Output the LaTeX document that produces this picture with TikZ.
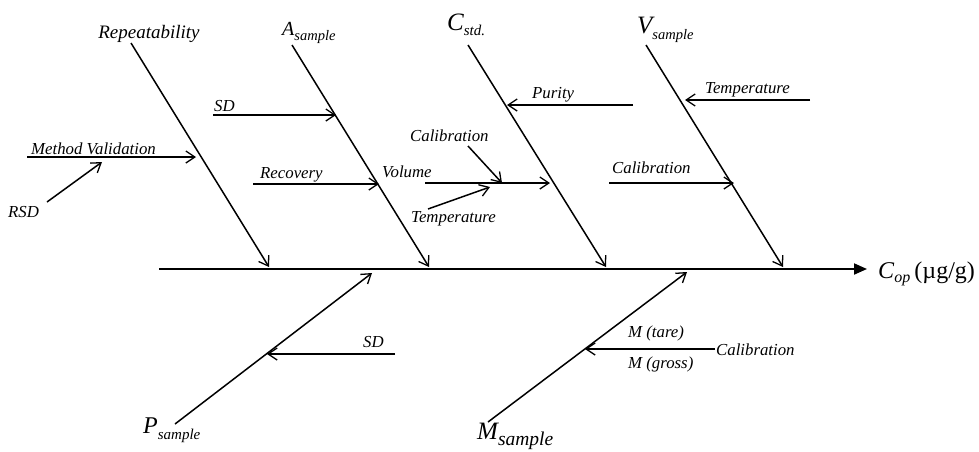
\documentclass[tikz,border=0pt]{standalone}
\usepackage{fontspec}
\setmainfont{Liberation Serif}
\usetikzlibrary{arrows.meta}
\newcommand\fsz[1]{\fontsize{#1}{#1}\selectfont}
\newcommand\subx[3]{#1\raisebox{#2}{\fsz{#3}sample}}
\begin{document}
\begin{tikzpicture}[x=1pt,y=-1pt,
  bone/.style={line width=1.5pt,-{Straight Barb[length=9pt,width=12pt,line width=1.3pt]}},
  spine/.style={line width=2pt,-{Triangle[length=13pt,width=11pt]}},
  lbl/.style={inner sep=0pt,font=\fsz{16.8}\itshape},
  big/.style={inner sep=0pt,font=\itshape}]
\useasboundingbox (0,0) rectangle (979,451);
\fill[white] (0,0) rectangle (979,451);
% spine
\coordinate (s0) at (159,269);
\coordinate (s1) at (867,269);
\draw[spine] (s0) -- (s1);
\node[inner sep=0pt,anchor=base west] (cop) at (878,278)
  {\fsz{24}\textit{C}\raisebox{-4pt}{\fsz{16}\textit{op}}\,(µg/g)};
% top bones
\coordinate (r0) at (131,43);  \coordinate (r1) at (269,267);
\coordinate (a0) at (292,45);  \coordinate (a1) at (429,267);
\coordinate (c0) at (468,45);  \coordinate (c1) at (606,267);
\coordinate (v0) at (646,45);  \coordinate (v1) at (783,267);
\draw[bone] (r0) -- (r1);
\draw[bone] (a0) -- (a1);
\draw[bone] (c0) -- (c1);
\draw[bone] (v0) -- (v1);
\node[big,anchor=base] (lr) at (149,38) {\fsz{19}Repeatability};
\node[big,anchor=base west] (la) at (282,35) {\fsz{20}\subx{A}{-5pt}{14.5}};
\node[big,anchor=base west] (lc) at (447,30) {\fsz{25}C\raisebox{-5pt}{\fsz{15}std.}};
\node[big,anchor=base west] (lv) at (637,33) {\fsz{25}\subx{V}{-6pt}{14.5}};
% bottom bones
\coordinate (p0) at (175,424); \coordinate (p1) at (372,273);
\coordinate (m0) at (488,422); \coordinate (m1) at (687,272);
\draw[bone] (p0) -- (p1);
\draw[bone] (m0) -- (m1);
\node[big,anchor=base west] (lp) at (143,433) {\fsz{24}\subx{P}{-6pt}{15}};
\node[big,anchor=base west] (lm) at (477,439) {\fsz{25}\subx{M}{-6pt}{19.5}};
% sub-causes: Repeatability
\coordinate (mv0) at (27,157); \coordinate (mv1) at (196,157);
\draw[bone] (mv0) -- (mv1);
\node[lbl,anchor=base west] (tmv) at (31,154) {Method Validation};
\node[lbl,anchor=base west] (trsd) at (8,217) {RSD};
\coordinate (rsd0) at (47,202); \coordinate (rsd1) at (102,162);
\draw[bone] (rsd0) -- (rsd1);
% A sample
\coordinate (sd0) at (213,115); \coordinate (sd1) at (336,115);
\draw[bone] (sd0) -- (sd1);
\node[lbl,anchor=base west] (tsd) at (214,111) {SD};
\coordinate (rc0) at (253,184); \coordinate (rc1) at (379,184);
\draw[bone] (rc0) -- (rc1);
\node[lbl,anchor=base west] (trc) at (260,178) {Recovery};
% C std
\node[lbl,anchor=base west] (tvol) at (382,177) {Volume};
\coordinate (vo0) at (425,183); \coordinate (vj) at (502,183); \coordinate (vo1) at (550,183);
\draw[line width=1.5pt] (vo0) -- (vj);
\draw[bone] (vj) -- (vo1);
\node[lbl,anchor=base west] (tcal1) at (410,141) {Calibration};
\coordinate (ca0) at (468,146);
\draw[bone] (ca0) -- (vj);
\node[lbl,anchor=base west] (ttmp1) at (411,222) {Temperature};
\coordinate (te0) at (428,209); \coordinate (te1) at (490,187);
\draw[bone] (te0) -- (te1);
\coordinate (pu0) at (633,105); \coordinate (pu1) at (507,105);
\draw[bone] (pu0) -- (pu1);
\node[lbl,anchor=base west] (tpu) at (532,98) {Purity};
% V sample
\coordinate (tr0) at (810,100); \coordinate (tr1) at (685,100);
\draw[bone] (tr0) -- (tr1);
\node[lbl,anchor=base west] (ttmp2) at (705,93) {Temperature};
\coordinate (cr0) at (609,183); \coordinate (cr1) at (734,183);
\draw[bone] (cr0) -- (cr1);
\node[lbl,anchor=base west] (tcal2) at (612,173) {Calibration};
% P sample
\coordinate (sb0) at (395,354); \coordinate (sb1) at (267,354);
\draw[bone] (sb0) -- (sb1);
\node[lbl,anchor=base west] (tsdb) at (363,347) {SD};
% M sample
\coordinate (mt0) at (715,349); \coordinate (mt1) at (585,349);
\draw[bone] (mt0) -- (mt1);
\node[lbl,anchor=base west] (tmt) at (628,337) {M (tare)};
\node[lbl,anchor=base west] (tmg) at (628,368) {M (gross)};
\node[lbl,anchor=west] (tcal3) at (716,350) {Calibration};
\end{tikzpicture}
\end{document}
